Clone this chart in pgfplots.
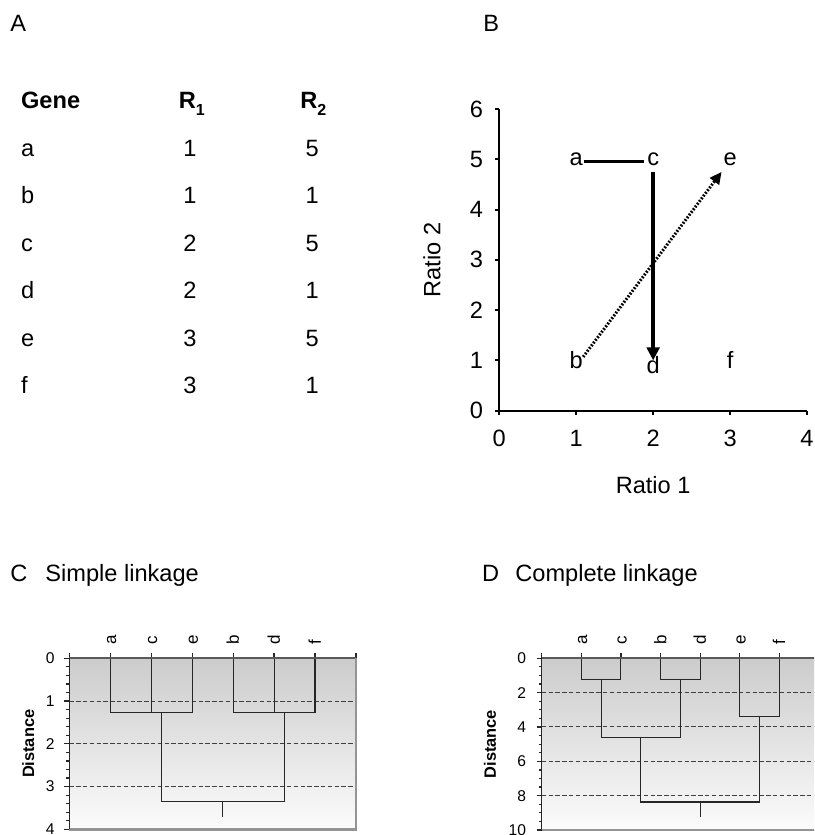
\documentclass[border=0pt]{standalone}
\usepackage{fontspec}
\setmainfont{Liberation Sans}
\usepackage{pgfplots}
\pgfplotsset{compat=1.18}
\usetikzlibrary{arrows.meta}

\newcommand{\bigf}{\fontsize{11.8}{14}\selectfont}
\newcommand{\smallf}{\fontsize{7.8}{9.4}\selectfont}

\pgfplotsset{
  dendro/.style={
    scale only axis, xmin=0, xmax=7, ymin=0, y dir=reverse,
    axis background/.style={top color=gray!40, bottom color=gray!3},
    axis line style={draw=none},
    xtick={0,...,7}, xtick pos=upper, xticklabel pos=upper,
    ytick pos=left, yticklabel pos=left,
    tick align=outside, major tick length=2.5pt, minor tick length=1.5pt,
    tick style={black!85, line width=0.6pt},
    ymajorgrids, grid style={black!75, line width=0.5pt, dash pattern=on 2.2pt off 1.2pt},
    /pgf/number format/assume math mode=true,
    xticklabel style={rotate=90, anchor=west, font=\fontsize{8.5}{10}\selectfont, text height=5.8pt, text depth=0pt, inner xsep=4.2pt},
    yticklabel style={font=\smallf},
    ylabel style={font=\fontsize{8.2}{10}\selectfont\bfseries, anchor=center},
    clip=false,
  },
  dline/.style={black!85, line width=0.55pt, mark=none},
}

\begin{document}
\begin{tikzpicture}[font=\bigf]
\path[use as bounding box] (0,0) rectangle (407pt,417.5pt);
\clip (0,0) rectangle (407pt,417.5pt);
% panel titles
\node[anchor=base west, inner sep=0pt] at (5pt,401.65pt) {A};
\node[anchor=base west, inner sep=0pt] at (241.5pt,401.65pt) {B};
\node[anchor=base west, inner sep=0pt] at (5pt,126.65pt) {C};
\node[anchor=base west, inner sep=0pt] at (22.5pt,126.65pt) {Simple linkage};
\node[anchor=base west, inner sep=0pt] at (240.85pt,126.65pt) {D};
\node[anchor=base west, inner sep=0pt] at (257.5pt,126.65pt) {Complete linkage};

% panel A: table
\node[anchor=base west, inner sep=0pt, font=\bigf\bfseries] at (10.35pt,363.35pt) {Gene};
\node[anchor=base west, inner sep=0pt, font=\bigf\bfseries] at (89.2pt,363.35pt) {R\raisebox{-3.8pt}{\fontsize{8}{10}\selectfont 1}};
\node[anchor=base west, inner sep=0pt, font=\bigf\bfseries] at (150pt,363.35pt) {R\raisebox{-3.8pt}{\fontsize{8}{10}\selectfont 2}};
\foreach \g/\p/\q/\yy in {a/1/5/156.7, b/1/1/203.3, c/2/5/251.7, d/2/1/298.3, e/3/5/346.7, f/3/1/393.3}{
  \node[anchor=base west, inner sep=0pt] at (10.35pt,{417.5pt-0.5pt*\yy}) {\g};
  \node[anchor=base, inner sep=0pt] at (95pt,{417.5pt-0.5pt*\yy}) {\p};
  \node[anchor=base, inner sep=0pt] at (156.15pt,{417.5pt-0.5pt*\yy}) {\q};
}

% panel B
\begin{axis}[
  at={(326.575pt,287.575pt)}, anchor=center,
  scale only axis, width=153.85pt, height=150.85pt,
  xmin=0, xmax=4, ymin=0, ymax=6,
  axis lines=left, axis line style={-, line width=1pt, black},
  xtick={0,...,4}, ytick={0,...,6},
  tick align=outside, major tick length=2pt,
  tick style={line width=1pt, black},
  /pgf/number format/assume math mode=true,
  tick label style={font=\bigf},
  xticklabel style={yshift=-4.3pt},
  yticklabel style={xshift=-2.6pt},
  xlabel={Ratio 1}, ylabel={Ratio 2},
  label style={font=\bigf},
  xlabel style={at={(axis description cs:0.5,-0.246)}, anchor=center},
  ylabel style={at={(axis description cs:-0.219,0.5)}, anchor=center},
  clip=false,
]
\addplot[black, line width=1.6pt, mark=none] coordinates {(1.1,4.96) (1.88,4.96)};
\addplot[black, line width=1.8pt, mark=none, -{Triangle[length=6.5pt,width=6.3pt]}] coordinates {(2,4.75) (2,1.0)};
\addplot[black, line width=1.5pt, mark=none, dash pattern=on 0.9pt off 0.8pt, -{Triangle[length=6pt,width=5.5pt]}] coordinates {(1.09,1.07) (2.89,4.75)};
\addplot[draw=none, mark=none, nodes near coords, point meta=explicit symbolic,
  every node near coord/.append style={anchor=center, inner sep=0pt, font=\bigf}]
  coordinates {(1,5)[a] (2,5)[c] (3,5)[e] (1,1)[b] (3,1)[f]};
\addplot[draw=none, mark=none, nodes near coords, point meta=explicit symbolic,
  every node near coord/.append style={anchor=center, inner sep=0pt, font=\bigf, yshift=-2.5pt}]
  coordinates {(2,1)[d]};
\end{axis}

% panel C
\begin{axis}[dendro,
  at={(106.325pt,45.6pt)}, anchor=center,
  width=143.35pt, height=85.5pt,
  ymax=4, ytick={0,...,4}, minor y tick num=4,
  xticklabels={,a,c,e,b,d,f,},
  yticklabel style={xshift=-1.3pt},
  ylabel={Distance},
  ylabel style={at={(axis description cs:-0.143,0.5)}},
]
\addplot[dline] coordinates {(1,0) (1,1.26) (2,1.26) (2,0)};
\addplot[dline] coordinates {(1.5,1.26) (3,1.26) (3,0)};
\addplot[dline] coordinates {(4,0) (4,1.26) (5,1.26) (5,0)};
\addplot[dline] coordinates {(4.5,1.26) (6,1.26) (6,0)};
\addplot[dline] coordinates {(2.25,1.26) (2.25,3.35) (5.25,3.35) (5.25,1.26)};
\addplot[dline] coordinates {(3.75,3.35) (3.75,3.72)};
\draw[black!65, line width=1pt] (axis cs:0,0) -- (axis cs:7,0);
\draw[black!42, line width=1.2pt] (axis cs:7,0) -- (axis cs:7,4) -- (axis cs:0,4);
\draw[black!85, line width=0.6pt] (axis cs:0,0) -- (axis cs:0,4);
\end{axis}

% panel D
\begin{axis}[dendro,
  at={(340.15pt,45.425pt)}, anchor=center,
  width=138.6pt, height=85.85pt,
  ymax=10, ytick={0,2,...,10}, minor y tick num=3,
  xticklabels={,a,c,b,d,e,f,},
  yticklabel style={xshift=-1.8pt},
  ylabel={Distance},
  ylabel style={at={(axis description cs:-0.1865,0.5)}},
]
\addplot[dline] coordinates {(1,0) (1,1.26) (2,1.26) (2,0)};
\addplot[dline] coordinates {(3,0) (3,1.26) (4,1.26) (4,0)};
\addplot[dline] coordinates {(5,0) (5,3.4) (6,3.4) (6,0)};
\addplot[dline] coordinates {(1.5,1.26) (1.5,4.62) (3.5,4.62) (3.5,1.26)};
\addplot[dline] coordinates {(2.5,4.62) (2.5,8.37) (5.5,8.37) (5.5,3.4)};
\addplot[dline] coordinates {(4,8.37) (4,9.26)};
\draw[black!65, line width=1pt] (axis cs:0,0) -- (axis cs:7,0);
\draw[black!42, line width=1.2pt] (axis cs:7,0) -- (axis cs:7,10) -- (axis cs:0,10);
\draw[black!85, line width=0.6pt] (axis cs:0,0) -- (axis cs:0,10);
\end{axis}
\end{tikzpicture}
\end{document}
